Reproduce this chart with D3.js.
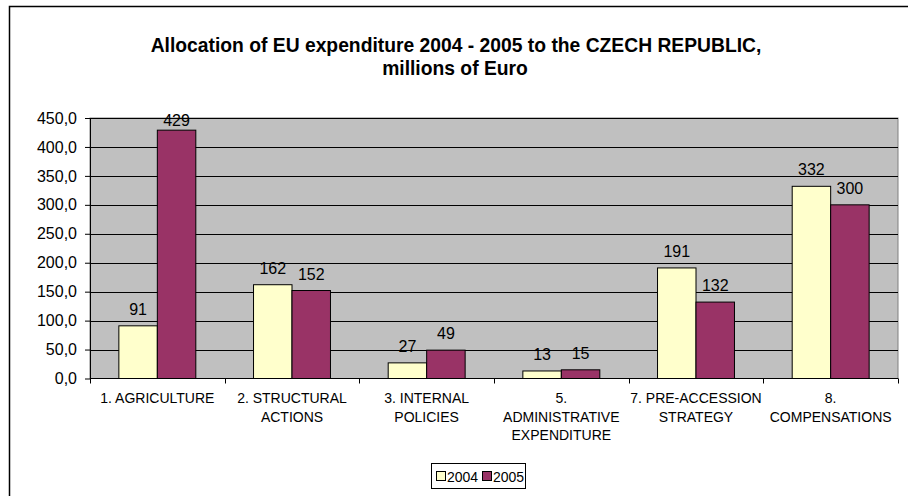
<!DOCTYPE html>
<html><head><meta charset="utf-8">
<script src="https://cdn.jsdelivr.net/npm/d3@7"></script>
<style>body{margin:0;background:#fff}svg{display:block;font-family:"Liberation Sans",Arial,sans-serif}</style>
</head><body>
<svg id="c" width="908" height="496"></svg>
<script>
const categories = [["1. AGRICULTURE"],["2. STRUCTURAL","ACTIONS"],["3. INTERNAL","POLICIES"],["5.","ADMINISTRATIVE","EXPENDITURE"],["7. PRE-ACCESSION","STRATEGY"],["8.","COMPENSATIONS"]];
const series = ["2004","2005"];
const values2004 = [91,162,27,13,191,332];
const values2005 = [429,152,49,15,132,300];
const yTicks = [0,50,100,150,200,250,300,350,400,450];
const colors = ["#FFFFCC","#993366"];

const svg = d3.select("#c");
svg.append("rect").attr("x",9.5).attr("y",6.5).attr("width",920).attr("height",520).attr("fill","none").attr("stroke","#000").attr("stroke-width",1.5);

const L=90,R=898,T=118,B=378.5;
const x = d3.scaleBand().domain(d3.range(categories.length)).range([L,R]).paddingInner(0).paddingOuter(0);
const y = d3.scaleLinear().domain([0,450]).range([B,T]);

svg.append("text").attr("x",456).attr("y",52).attr("text-anchor","middle").attr("font-weight","bold").attr("font-size",19.3).text("Allocation of EU expenditure 2004 - 2005 to the CZECH REPUBLIC,");
svg.append("text").attr("x",455).attr("y",75).attr("text-anchor","middle").attr("font-weight","bold").attr("font-size",19.3).text("millions of Euro");

svg.append("rect").attr("x",L).attr("y",T).attr("width",R-L).attr("height",B-T).attr("fill","#C0C0C0").attr("stroke","#808080");

svg.append("g").selectAll("line").data(yTicks.filter(d=>d>0)).join("line")
 .attr("x1",L).attr("x2",R).attr("y1",d=>Math.round(y(d))+0.5).attr("y2",d=>Math.round(y(d))+0.5).attr("stroke","#000");

const bw = x.bandwidth()/3.5;
const data = [];
categories.forEach((c,i)=>{
  data.push({i,s:0,v:values2004[i]});
  data.push({i,s:1,v:values2005[i]});
});
svg.append("g").selectAll("rect").data(data).join("rect")
 .attr("x",d=>x(d.i)+bw*0.75+d.s*bw).attr("width",bw)
 .attr("y",d=>y(d.v)).attr("height",d=>B-y(d.v))
 .attr("fill",d=>colors[d.s]).attr("stroke","#000").attr("stroke-width",1);
svg.append("g").selectAll("text").data(data).join("text")
 .attr("x",d=>x(d.i)+bw*0.75+d.s*bw+bw/2).attr("y",d=>Math.max(y(d.v)-11,T+8))
 .attr("text-anchor","middle").attr("font-size",16).text(d=>d.v);

const ya = d3.axisLeft(y).tickValues(yTicks).tickSize(5).tickPadding(8).tickFormat(d=>d3.format(".1f")(d).replace(".",","));
const gy = svg.append("g").attr("transform",`translate(${L},0)`).call(ya);
gy.select(".domain").attr("d",`M0.5,${T}V${B}`).attr("stroke","#000");
gy.selectAll("text").attr("font-size",16).attr("fill","#000").attr("font-family","Liberation Sans, Arial, sans-serif");
gy.selectAll(".tick line").attr("stroke","#000");

svg.append("line").attr("x1",L).attr("x2",R).attr("y1",B).attr("y2",B).attr("stroke","#000");
svg.append("g").selectAll("line").data(d3.range(categories.length+1)).join("line")
 .attr("x1",d=>Math.round(L+d*x.step())+0.5).attr("x2",d=>Math.round(L+d*x.step())+0.5).attr("y1",B).attr("y2",B+5).attr("stroke","#000");
const xl = svg.append("g").selectAll("text").data(categories).join("text")
 .attr("x",(d,i)=>x(i)+x.bandwidth()/2).attr("y",403).attr("text-anchor","middle").attr("font-size",14);
xl.each(function(d){
  d3.select(this).selectAll("tspan").data(d).join("tspan").attr("x",d3.select(this).attr("x")).attr("dy",(t,j)=>j?18.5:0).text(t=>t);
});

const lg = svg.append("g").attr("transform","translate(431,463)");
lg.append("rect").attr("x",0.5).attr("y",0.5).attr("width",94).attr("height",25).attr("fill","#fff").attr("stroke","#000");
series.forEach((s,i)=>{
  const g = lg.append("g").attr("transform",`translate(${5+i*46},0)`);
  g.append("rect").attr("x",0.5).attr("y",8.5).attr("width",9).attr("height",9).attr("fill",colors[i]).attr("stroke","#000");
  g.append("text").attr("x",11).attr("y",18.5).attr("font-size",14).text(s);
});
</script>
</body></html>
